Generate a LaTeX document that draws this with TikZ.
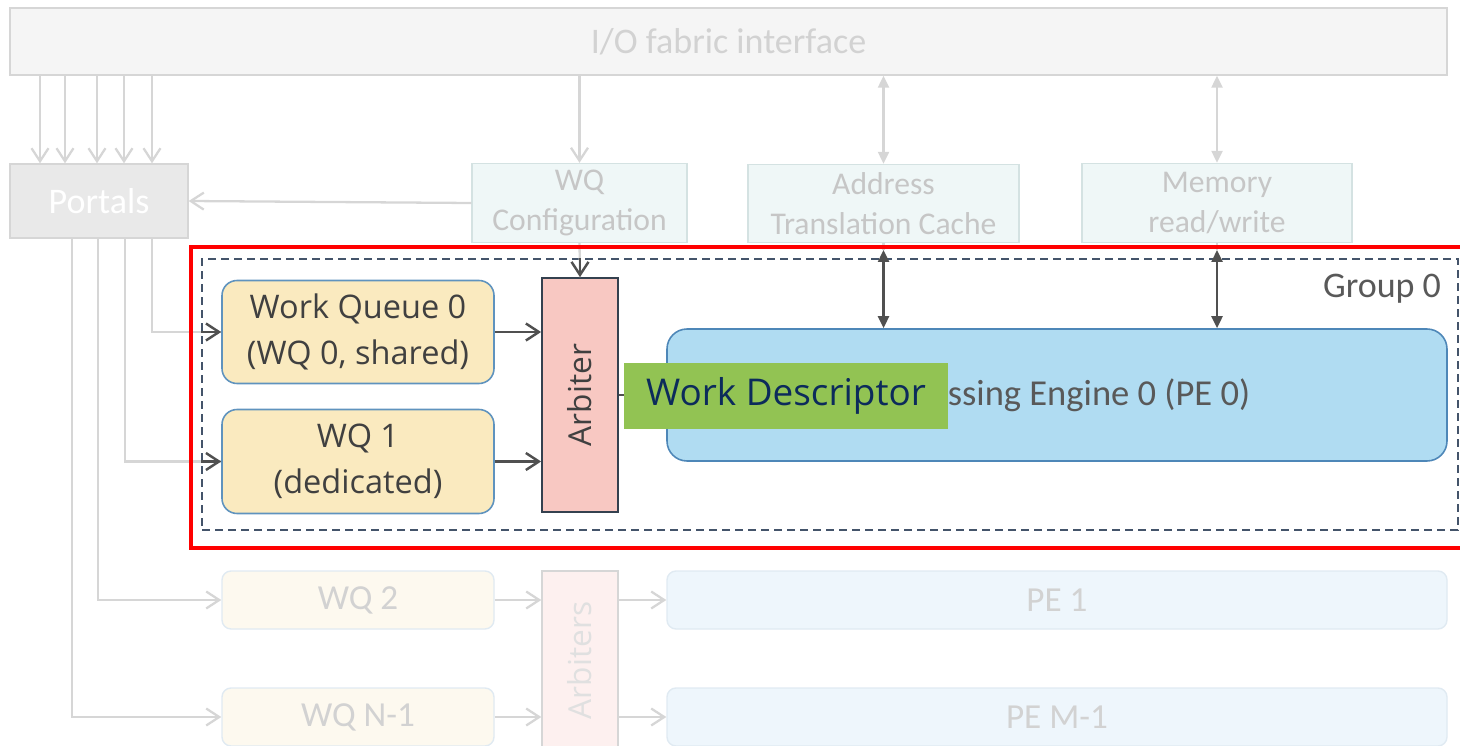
\documentclass[tikz,border=0pt]{standalone}
\usepackage{fontspec}
\setmainfont{Carlito}
\newfontfamily\wqfont{Open Sans}
\usepackage{xcolor}
\usepackage{tikz}
\usetikzlibrary{arrows.meta, positioning}

\definecolor{fadeline}{HTML}{D6D6D6}
\definecolor{fadetext}{HTML}{D2D2D2}
\definecolor{fabricfill}{HTML}{F5F5F5}
\definecolor{portalfill}{HTML}{E9E9E9}
\definecolor{unitfill}{HTML}{EFF7F7}
\definecolor{unitdraw}{HTML}{D4E2E2}
\definecolor{unittext}{HTML}{C6C6C6}
\definecolor{darkline}{HTML}{505050}
\definecolor{groupline}{HTML}{44546A}
\definecolor{wqfill}{HTML}{FAEABF}
\definecolor{wqdraw}{HTML}{5F93BE}
\definecolor{arbfill}{HTML}{F8C8C2}
\definecolor{arbdraw}{HTML}{34414F}
\definecolor{pefill}{HTML}{B0DCF2}
\definecolor{pedraw}{HTML}{4E87B8}
\definecolor{desccolor}{HTML}{92C353}
\definecolor{desctext}{HTML}{0C2B5B}
\definecolor{wqfade}{HTML}{FDF9EF}
\definecolor{arbfade}{HTML}{FDF0EF}
\definecolor{pefade}{HTML}{EEF6FC}
\definecolor{fadedraw}{HTML}{E0EAF2}

\tikzset{
  faint/.style={draw=fadeline, line width=1.3pt},
  dark/.style={draw=darkline, line width=1.4pt},
  faintbox/.style={draw=fadeline, line width=0.8pt, inner sep=0pt},
  unitbox/.style={draw=unitdraw, fill=unitfill, line width=0.8pt, inner sep=0pt, align=center,
    text=unittext, font=\fontsize{18}{22.5}\selectfont},
  queuebox/.style={draw=wqdraw, fill=wqfill, line width=0.9pt, rounded corners=0.3cm, inner sep=0pt,
    align=center, text=black!75, font=\wqfont\fontsize{18.5}{26}\selectfont},
  fadequeue/.style={draw=fadedraw, fill=wqfade, line width=0.8pt, rounded corners=0.18cm, inner sep=0pt,
    text=fadetext, font=\fontsize{20}{24}\selectfont},
  fadeengine/.style={draw=fadedraw, fill=pefade, line width=0.8pt, rounded corners=0.18cm, inner sep=0pt,
    text=fadetext, font=\fontsize{20}{24}\selectfont},
  tipboth/.style={{Triangle[length=0.24cm,width=0.22cm]}-{Triangle[length=0.24cm,width=0.22cm]}}
}

\begin{document}
\begin{tikzpicture}[x=0.02cm, y=-0.02cm, >={Straight Barb[length=0.26cm,width=0.34cm]}]
    \def\px{0.02cm}
    \useasboundingbox (0,0) rectangle (1460,746);

    % FABRIC, PORTALS AND SUPPORT UNITS
    \node[faintbox, fill=fabricfill, minimum width=1437*\px, minimum height=67*\px,
      text=fadetext, font=\fontsize{20.5}{24}\selectfont] (fabric) at (728.5,41.5) {I/O fabric interface};
    \node[faintbox, fill=portalfill, minimum width=178*\px, minimum height=74*\px,
      text=white, font=\fontsize{20.5}{24}\selectfont] (portals) at (99,201) {Portals};
    \node[unitbox, minimum width=215*\px, minimum height=79*\px] (config) at (579.5,203) {WQ\\Configuration};
    \node[unitbox, minimum width=271*\px, minimum height=78*\px] (atc) at (883.5,203.5) {Address\\Translation Cache};
    \node[unitbox, minimum width=270*\px, minimum height=79*\px] (mem) at (1217,203) {Memory\\read/write};

    % portal inputs from the fabric
    \foreach \x in {40,65,97,124,152} {
      \coordinate (in) at (\x,0);
      \draw[faint,->] (fabric.south -| in) -- (portals.north -| in);
    }
    \draw[faint,->] (fabric.south -| config.north) -- (config.north);
    \draw[faint,tipboth] (fabric.south -| atc.north) -- (atc.north);
    \draw[faint,tipboth] (fabric.south -| mem.north) -- (mem.north);
    \draw[faint,->] (config.west) -- (portals.east);

    % GROUP 0
    \node[draw=groupline, line width=1.1pt, dash pattern=on 4.6pt off 2.8pt, minimum width=1256*\px,
      minimum height=271*\px, inner sep=0pt] (group) at (830,394.5) {};
    \node[text=black!65, font=\fontsize{20.5}{24}\selectfont] (grouplabel) at (1382,289) {Group 0};

    \node[queuebox, minimum width=272*\px, minimum height=103*\px] (wq0) at (358,332) {Work Queue 0\\(WQ 0, shared)};
    \node[queuebox, minimum width=272*\px, minimum height=104*\px] (wq1) at (358,461.5) {WQ 1\\(dedicated)};
    \node[draw=arbdraw, fill=arbfill, line width=1pt, minimum width=76*\px, minimum height=234*\px, inner sep=0pt,
      text=black!75, font=\wqfont\fontsize{18}{22}\selectfont] (arb) at (580,395) {\rotatebox{90}{Arbiter}};
    \node[draw=pedraw, fill=pefill, line width=0.9pt, rounded corners=0.4cm, minimum width=780*\px,
      minimum height=132*\px, inner sep=0pt, text=black!65, font=\fontsize{20.8}{24}\selectfont] (pe0) at (1057,395)
      {Processing Engine 0 (PE 0)};

    % portal taps down to the queues
    \foreach \x/\q in {152/wq0, 125/wq1} {
      \coordinate (tap) at (\x,0);
      \draw[faint] (portals.south -| tap) |- (\q.west);
      \draw[dark,->] (\q.west -| group.west) -- (\q.west);
    }

    \draw[dark,->] (wq0.east) -- (arb.west |- wq0.east);
    \draw[dark,->] (wq1.east) -- (arb.west |- wq1.east);
    \draw[dark,->] (arb.east) -- (pe0.west);

    % links into the group from above
    \draw[faint] (config.south) -- (arb.north);
    \draw[dark,->] (arb.north |- group.north) -- (arb.north);
    \coordinate (edge) at (0,250);
    \draw[faint] (atc.south) -- (atc.south |- edge);
    \draw[faint] (mem.south) -- (mem.south |- edge);
    \draw[dark,tipboth] (atc.south |- edge) -- (atc.south |- pe0.north);
    \draw[dark,tipboth] (mem.south |- edge) -- (mem.south |- pe0.north);

    % DESCRIPTOR TAG
    \node[fill=desccolor, minimum width=324*\px, minimum height=65*\px, inner sep=0pt, text=desctext,
      font=\wqfont\fontsize{21}{24}\selectfont] (desc) at (786,396) {Work Descriptor};

    % OTHER QUEUES AND ENGINES
    \node[fadequeue, minimum width=272*\px, minimum height=58*\px] (wq2) at (358,600) {WQ 2};
    \node[fadequeue, minimum width=272*\px, minimum height=58*\px] (wqn) at (358,717) {WQ N-1};
    \node[draw=fadeline, fill=arbfade, line width=0.8pt, minimum width=76*\px, minimum height=179*\px, inner sep=0pt,
      text=black!12, font=\wqfont\fontsize{18}{22}\selectfont] (arbs) at (580,660.5) {\rotatebox{90}{Arbiters}};
    \node[fadeengine, minimum width=780*\px, minimum height=58*\px] (pe1) at (1057,600) {PE 1};
    \node[fadeengine, minimum width=780*\px, minimum height=58*\px] (pem) at (1057,717) {PE M-1};

    \foreach \x/\q in {98/wq2, 72/wqn} {
      \coordinate (tap) at (\x,0);
      \draw[faint,->] (portals.south -| tap) |- (\q.west);
      \draw[faint,->] (\q.east) -- (arbs.west |- \q.east);
    }
    \draw[faint,->] (arbs.east |- pe1.west) -- (pe1.west);
    \draw[faint,->] (arbs.east |- pem.west) -- (pem.west);

    % HIGHLIGHT FRAME
    \draw[red, line width=2.8pt] (1470,247) -- (191,247) -- (191,548) -- (1470,548);
\end{tikzpicture}
\end{document}
